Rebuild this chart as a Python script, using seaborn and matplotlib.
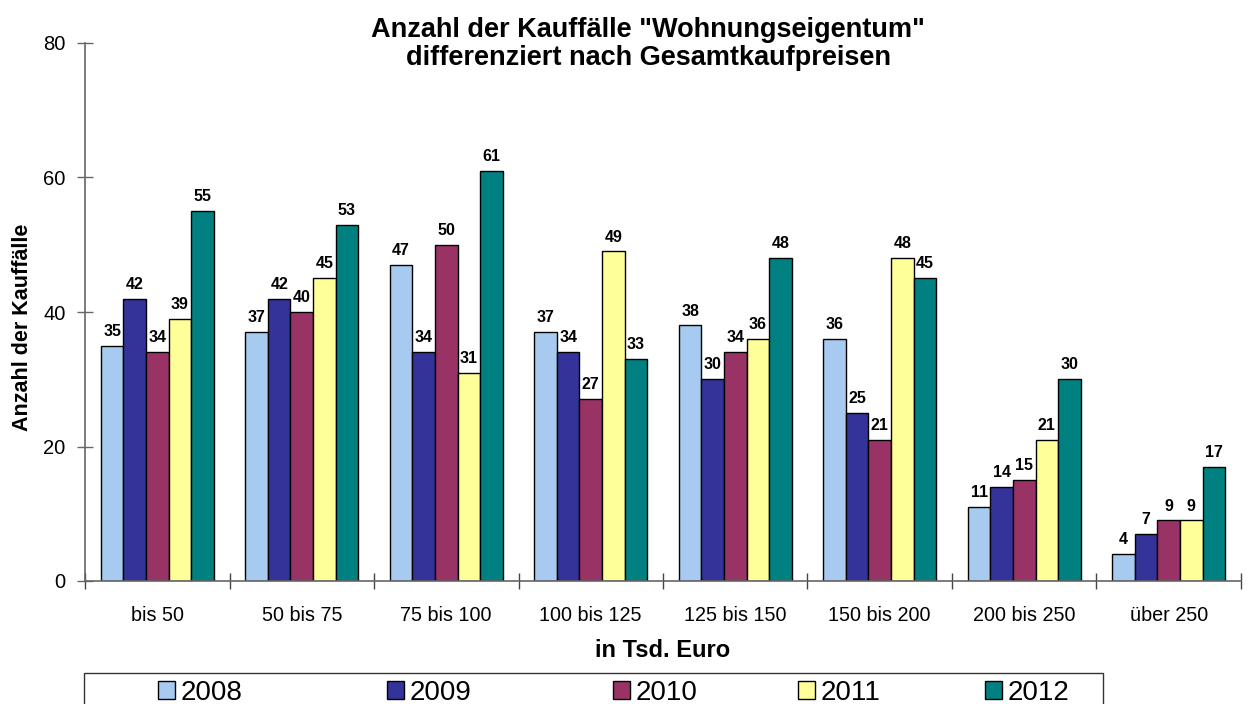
import pandas as pd
import matplotlib
matplotlib.use('Agg')
import matplotlib.pyplot as plt
import seaborn as sns

# categories and yearly series
categories = ['bis 50', '50 bis 75', '75 bis 100', '100 bis 125',
              '125 bis 150', '150 bis 200', '200 bis 250', 'über 250']
years = ['2008', '2009', '2010', '2011', '2012']
v2008 = [35, 37, 47, 37, 38, 36, 11, 4]
v2009 = [42, 42, 34, 34, 30, 25, 14, 7]
v2010 = [34, 40, 50, 27, 34, 21, 15, 9]
v2011 = [39, 45, 31, 49, 36, 48, 21, 9]
v2012 = [55, 53, 61, 33, 48, 45, 30, 17]
colors = ['#A6CAF0', '#333399', '#993366', '#FFFF99', '#008080']

# long format for seaborn
rows = []
for year, vals in zip(years, [v2008, v2009, v2010, v2011, v2012]):
    for cat, v in zip(categories, vals):
        rows.append({'Preis': cat, 'Jahr': year, 'Anzahl': v})
df = pd.DataFrame(rows)

sns.set_style('white')
plt.rcParams['font.family'] = ['Liberation Sans', 'DejaVu Sans']
plt.rcParams['text.color'] = 'black'
plt.rcParams['axes.labelcolor'] = 'black'
plt.rcParams['xtick.color'] = 'black'
plt.rcParams['ytick.color'] = 'black'

W, H = 1250, 704
fig = plt.figure(figsize=(12.5, 7.04), dpi=100)
ax = fig.add_axes([85 / W, 1 - 581 / H, 1156 / W, 538 / H])

sns.barplot(data=df, x='Preis', y='Anzahl', hue='Jahr', order=categories,
            hue_order=years, palette=colors, width=0.78, edgecolor='black',
            linewidth=1.0, saturation=1, legend=False, ax=ax)

for cont in ax.containers:
    ax.bar_label(cont, padding=5, fontsize=11.5, fontweight='bold')

ax.set_ylim(0, 80)
ax.set_xlim(-0.5, len(categories) - 0.5)
ax.set_yticks([0, 20, 40, 60, 80])
ax.tick_params(axis='y', left=True, direction='inout', length=12, width=1,
               color='#666666', labelsize=14.5, pad=8)
ax.set_xticks(range(len(categories)))
ax.set_xticklabels(categories)
ax.set_xticks([i - 0.5 for i in range(len(categories) + 1)], minor=True)
ax.tick_params(axis='x', which='major', bottom=True, length=0, labelsize=14.2, pad=18)
ax.tick_params(axis='x', which='minor', bottom=True, direction='inout', length=12,
               width=1, color='#444444')

for s in ['top', 'right']:
    ax.spines[s].set_visible(False)
for s in ['left', 'bottom']:
    ax.spines[s].set_color('#666666')
    ax.spines[s].set_linewidth(1.2)

ax.set_ylabel('Anzahl der Kauffälle', fontsize=15.5, fontweight='bold')
ax.yaxis.set_label_coords(-0.045, 0.472)
ax.set_xlabel('in Tsd. Euro', fontsize=17, fontweight='bold', labelpad=10)

fig.text(648 / W, 1 - 44 / H,
         'Anzahl der Kauffälle "Wohnungseigentum"\ndifferenziert nach Gesamtkaufpreisen',
         ha='center', va='center', fontsize=19.5, fontweight='bold', linespacing=1.12)

# legend: boxed row below the chart, one entry per year
frame = plt.Rectangle((84 / W, -0.02), (1103 - 84) / W, 31 / H + 0.02,
                      transform=fig.transFigure, fill=False,
                      edgecolor='#333333', linewidth=1.0)
fig.patches.append(frame)
entry_x = [158, 387, 613, 798, 985]
for c, year, x in zip(colors, years, entry_x):
    h = plt.Rectangle((0, 0), 1, 1, facecolor=c, edgecolor='black', linewidth=1)
    leg = fig.legend([h], [year], loc='center left',
                     bbox_to_anchor=(x / W, 1 - 693 / H),
                     fontsize=20, handlelength=0.6, handleheight=0.6,
                     handletextpad=0.2, borderaxespad=0, borderpad=0,
                     frameon=False)

fig.savefig('out.png', dpi=100)
